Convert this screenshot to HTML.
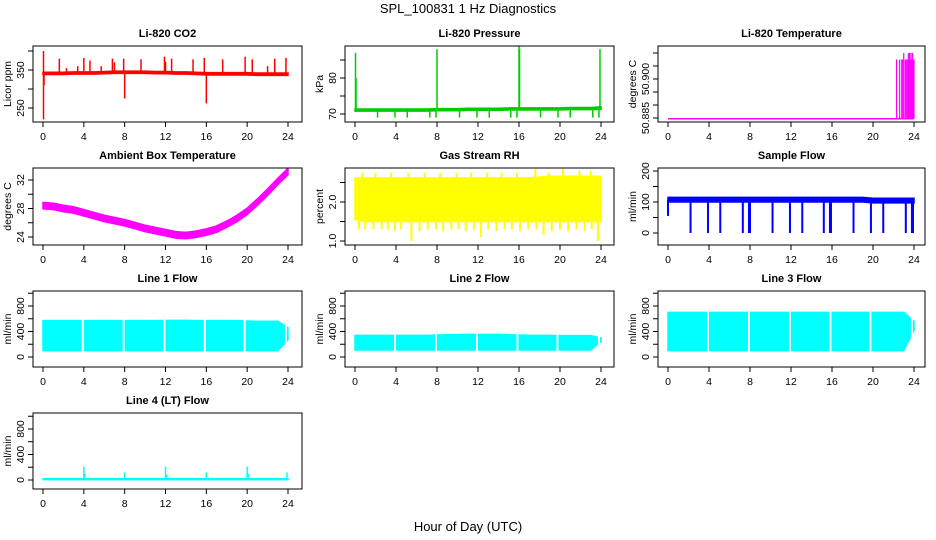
<!DOCTYPE html>
<html><head><meta charset="utf-8">
<style>
html,body{margin:0;padding:0;background:#fff;}
svg{display:block;font-family:"Liberation Sans",Arial,sans-serif;}
.tl{font-size:10.5px;fill:#000;}
.tt{font-size:11px;font-weight:bold;fill:#000;}
</style></head>
<body>
<svg id="chart" width="936" height="540" viewBox="0 0 936 540">
<text x="468" y="13" text-anchor="middle" font-size="13">SPL_100831  1 Hz Diagnostics</text>
<text x="468" y="531" text-anchor="middle" font-size="13">Hour of Day (UTC)</text>
</svg>
<script>
// ---------- data ----------
const hours = [0,1,2,3,4,5,6,7,8,9,10,11,12,13,14,15,16,17,18,19,20,21,22,23,24];
const xTicks = [0,4,8,12,16,20,24];

const co2Hi = [344,344,344,345,345,345,346,347,347,347,347,346,346,345,345,344,343,343,343,343,343,342,342,342,342];
const co2Lo = [338,338,338,339,339,339,340,341,341,341,341,340,340,339,339,338,337,337,337,337,337,336,336,336,336];
const co2SpikeT = [0.05,1.6,2.3,3.4,4.0,4.6,5.7,6.8,7.0,7.9,9.6,11.9,12.0,12.6,14.7,15.8,17.6,19.8,20.5,22.0,22.7,23.8,0.05,0.1,8.0,16.0];
const co2SpikeV = [400,380,355,360,382,375,360,380,370,380,378,385,372,380,378,382,378,385,378,360,380,382,220,310,275,262];

const presHi = [71.4,71.4,71.4,71.4,71.4,71.4,71.4,71.4,71.5,71.5,71.5,71.6,71.6,71.6,71.6,71.7,71.7,71.7,71.7,71.7,71.7,71.8,71.8,71.8,72.0];
const presLo = [70.8,70.8,70.8,70.8,70.8,70.8,70.8,70.8,70.9,70.9,70.9,71.0,71.0,71.0,71.0,71.1,71.1,71.1,71.1,71.1,71.1,71.2,71.2,71.2,71.3];
const presSpikeT = [0.05,0.1,8.0,16.0,16.05,23.9,2.2,3.9,5.1,7.3,7.9,10.2,11.9,13.1,15.2,15.8,18.1,19.8,21.0,23.2,23.8];
const presSpikeV = [87,80,88,89.5,88,88,69,69,69,69,69,69,69,69,69,69,69,69,69,69,69];

const tempBase = [50.8847,50.8847,50.8847,50.8847,50.8847,50.8847,50.8847,50.8847,50.8847,50.8847,50.8847,50.8847,50.8847,50.8847,50.8847,50.8847,50.8847,50.8847,50.8847,50.8847,50.8847,50.8847,50.8847,50.8847,50.8847];
const tempSpikeT = [22.3,22.6,22.8,22.9,23.0,23.15,23.25,23.35,23.45,23.5,23.55,23.65,23.7,23.8,23.85,23.95,24.0];
const tempSpikeV = [50.9075,50.9075,50.9075,50.9075,50.910,50.9075,50.9075,50.9075,50.910,50.9075,50.910,50.9075,50.910,50.9075,50.910,50.9075,50.9075];

const ambMid = [28.4,28.3,28.0,27.8,27.4,27.0,26.6,26.3,26.0,25.6,25.2,24.9,24.6,24.3,24.2,24.4,24.7,25.1,25.8,26.6,27.6,28.9,30.3,31.8,33.2];
const ambSpread = [0.45,0.45,0.45,0.45,0.45,0.45,0.45,0.45,0.45,0.45,0.45,0.45,0.45,0.45,0.45,0.45,0.45,0.45,0.45,0.45,0.45,0.45,0.45,0.45,0.45];

const rhHi = [2.62,2.62,2.62,2.62,2.62,2.62,2.62,2.62,2.62,2.62,2.62,2.62,2.62,2.62,2.62,2.62,2.62,2.62,2.64,2.66,2.66,2.66,2.66,2.66,2.66];
const rhLo = [1.55,1.5,1.5,1.5,1.5,1.5,1.5,1.5,1.5,1.5,1.5,1.5,1.5,1.5,1.5,1.5,1.5,1.5,1.5,1.5,1.5,1.5,1.5,1.5,1.5];
const rhSpikeT = [0.4,1.0,1.8,2.6,3.2,3.9,4.5,5.5,6.3,7.1,7.9,8.6,9.4,10.1,10.8,11.6,12.3,13.0,13.8,14.6,15.3,16.1,16.9,17.7,18.4,19.2,20.0,20.8,21.6,22.4,23.1,23.7,0.7,2.0,3.5,5.2,6.8,8.3,9.9,11.3,12.9,14.3,15.8,17.6,18.9,20.3,21.9,23.0];
const rhSpikeV = [1.3,1.3,1.3,1.3,1.3,1.25,1.3,1.0,1.25,1.3,1.3,1.25,1.3,1.3,1.25,1.3,1.1,1.3,1.25,1.3,1.3,1.25,1.3,1.3,1.15,1.25,1.3,1.25,1.3,1.25,1.3,1.0,2.75,2.75,2.75,2.75,2.75,2.75,2.75,2.75,2.75,2.75,2.75,2.85,2.75,2.85,2.8,2.8];

const flowHi = [115,115,115,115,115,115,115,115,115,115,115,115,115,115,115,115,115,115,115,115,112,112,112,112,112];
const flowLo = [100,100,100,100,100,100,100,100,100,100,100,100,100,100,100,100,100,100,100,100,97,97,97,97,97];
const flowSpikeT = [0.0,2.2,3.9,5.1,7.3,7.9,8.0,10.2,11.9,13.1,15.2,15.8,15.9,18.1,19.8,21.0,23.2,23.8,23.9];
const flowSpikeV = [55,0,0,0,0,0,0,0,0,0,0,0,0,0,0,0,0,0,0];

const l1Hi = [570,570,570,570,570,570,570,570,570,570,570,570,575,575,575,570,570,570,570,570,565,560,560,560,460];
const l1Lo = [100,100,100,100,100,100,100,100,100,100,100,100,100,100,100,100,100,100,100,100,100,100,100,100,270];
const l2Hi = [340,340,340,340,340,340,340,340,345,350,350,355,355,355,355,350,345,340,340,340,335,335,335,335,300];
const l2Lo = [110,110,110,110,110,110,110,110,110,110,110,110,110,110,110,110,110,110,110,110,110,110,110,110,240];
const l3Hi = [700,700,700,700,700,700,700,700,700,700,700,700,700,700,700,700,700,700,700,700,700,700,700,700,560];
const l3Lo = [100,100,100,100,100,100,100,100,100,100,100,100,100,100,100,100,100,100,100,100,100,100,100,100,420];
const lineGapT = [3.9,7.9,11.9,15.85,19.75,23.8];
const l4Hi = [20,20,20,20,20,20,20,20,20,20,20,20,20,20,20,20,20,20,20,20,20,20,20,20,20];
const l4Lo = [5,5,5,5,5,5,5,5,5,5,5,5,5,5,5,5,5,5,5,5,5,5,5,5,5];
const l4SpikeT = [4.0,4.1,8.0,12.0,12.1,16.0,20.0,20.1,23.9];
const l4SpikeV = [210,100,120,210,80,120,210,100,120];

// ---------- layout ----------
const NS='http://www.w3.org/2000/svg';
const svg=document.getElementById('chart');
const cols=[{l:33,r:302,x0:43,x24:288},{l:345,r:614,x0:355,x24:601},{l:658,r:925,x0:668,x24:914}];
const rows=[{t:46,b:122},{t:168,b:245},{t:291,b:367},{t:413,b:489}];
function mk(tag,attrs,parent){const e=document.createElementNS(NS,tag);for(const k in attrs)e.setAttribute(k,attrs[k]);(parent||svg).appendChild(e);return e;}

function panel(opt){
  const c=cols[opt.col], r=rows[opt.row];
  const g=mk('g',{});
  
  
  const xs=t=>c.x0+(c.x24-c.x0)*t/24;
  const ys=v=>opt.py1+(opt.py2-opt.py1)*(v-opt.v1)/(opt.v2-opt.v1);
  const clipId='clip'+opt.name;
  const cp=mk('clipPath',{id:clipId},g);mk('rect',{x:c.l,y:r.t,width:c.r-c.l,height:r.b-r.t},cp);
  const dg=mk('g',{'clip-path':'url(#'+clipId+')'},g);
  
  
  if(opt.hi){
    let pts=[];
    for(let i=0;i<hours.length;i++)pts.push(xs(hours[i])+','+ys(opt.hi[i]));
    for(let i=hours.length-1;i>=0;i--)pts.push(xs(hours[i])+','+ys(opt.lo[i]));
    const p=mk('polygon',{points:pts.join(' '),fill:opt.color,stroke:opt.color,'stroke-width':1.5},dg);
    
    
  }
  if(opt.gaps){
    opt.gaps.forEach(t=>{
      const l=mk('line',{x1:xs(t),x2:xs(t),y1:r.t+1,y2:r.b-1,stroke:'#fff','stroke-width':2},dg);
      
      
    });
  }
  if(opt.st){
    opt.st.forEach((t,i)=>{
      const idx=Math.min(24,Math.round(t));
      const base=(opt.hi[idx]+opt.lo[idx])/2;
      const l=mk('line',{x1:xs(t),x2:xs(t),y1:ys(base),y2:ys(opt.sv[i]),stroke:opt.color,'stroke-width':opt.sw||1.5},dg);
      
      
    });
  }
  const b=mk('rect',{x:c.l,y:r.t,width:c.r-c.l,height:r.b-r.t,fill:'none',stroke:'#000','stroke-width':1},g);
  
  
  const xa=mk('g',{},g);
  
  
  mk('line',{x1:xs(0),x2:xs(24),y1:r.b,y2:r.b,stroke:'#000'},xa);
  xTicks.forEach(t=>{
    mk('line',{x1:xs(t),x2:xs(t),y1:r.b,y2:r.b+5,stroke:'#000'},xa);
    const tx=mk('text',{x:xs(t),y:r.b+18,'text-anchor':'middle',class:'tl'},xa);tx.textContent=t;
  });
  const ya=mk('g',{},g);
  
  
  mk('line',{x1:c.l,x2:c.l,y1:ys(opt.yt[0]),y2:ys(opt.yt[opt.yt.length-1]),stroke:'#000'},ya);
  opt.yt.forEach(v=>{
    mk('line',{x1:c.l-5,x2:c.l,y1:ys(v),y2:ys(v),stroke:'#000'},ya);
  });
  opt.yl.forEach(v=>{
    const x=c.l-9, y=ys(v);
    const tx=mk('text',{x:x,y:y,'text-anchor':'middle',class:'tl',transform:'rotate(-90 '+x+' '+y+')'},ya);
    tx.textContent=opt.fmt?opt.fmt(v):v;
  });
  const lx=c.l-22, ly=(r.t+r.b)/2;
  const yt=mk('text',{x:lx,y:ly,'text-anchor':'middle',class:'tl',transform:'rotate(-90 '+lx+' '+ly+')'},g);
  yt.textContent=opt.ylab;
  
  
  const tt=mk('text',{x:(c.l+c.r)/2,y:r.t-9,'text-anchor':'middle',class:'tt'},g);
  tt.textContent=opt.title;
  
  
}

panel({name:'co2',col:0,row:0,title:'Li-820 CO2',ylab:'Licor ppm',color:'#ff0000',v1:250,py1:108,v2:350,py2:70,yt:[250,300,350,400],yl:[250,350],hi:co2Hi,lo:co2Lo,st:co2SpikeT,sv:co2SpikeV});
panel({name:'pressure',col:1,row:0,title:'Li-820 Pressure',ylab:'kPa',color:'#00cc00',v1:70,py1:114,v2:80,py2:78,yt:[70,75,80,85],yl:[70,80],hi:presHi,lo:presLo,st:presSpikeT,sv:presSpikeV});
panel({name:'li820-temp',col:2,row:0,title:'Li-820 Temperature',ylab:'degrees C',color:'#ff00ff',v1:50.885,py1:118,v2:50.900,py2:79,yt:[50.885,50.89,50.895,50.9,50.905,50.91],yl:[50.885,50.9],fmt:v=>v.toFixed(3),hi:tempBase,lo:tempBase,st:tempSpikeT,sv:tempSpikeV,sw:1.2});
panel({name:'ambient-temp',col:0,row:1,title:'Ambient Box Temperature',ylab:'degrees C',color:'#ff00ff',v1:24,py1:237,v2:32,py2:180,yt:[24,26,28,30,32],yl:[24,28,32],hi:ambMid.map((m,i)=>m+ambSpread[i]),lo:ambMid.map((m,i)=>m-ambSpread[i])});
panel({name:'gas-rh',col:1,row:1,title:'Gas Stream RH',ylab:'percent',color:'#ffff00',v1:1.0,py1:241,v2:2.0,py2:202,yt:[1.0,1.5,2.0,2.5],yl:[1.0,2.0],fmt:v=>v.toFixed(1),hi:rhHi,lo:rhLo,st:rhSpikeT,sv:rhSpikeV,sw:2});
panel({name:'sample-flow',col:2,row:1,title:'Sample Flow',ylab:'ml/min',color:'#0000ff',v1:0,py1:233,v2:200,py2:171,yt:[0,50,100,150,200],yl:[0,100,200],hi:flowHi,lo:flowLo,st:flowSpikeT,sv:flowSpikeV,sw:2});
panel({name:'line1-flow',col:0,row:2,title:'Line 1 Flow',ylab:'ml/min',color:'#00ffff',v1:0,py1:357,v2:800,py2:306,yt:[0,200,400,600,800,1000],yl:[0,400,800],hi:l1Hi,lo:l1Lo,gaps:lineGapT});
panel({name:'line2-flow',col:1,row:2,title:'Line 2 Flow',ylab:'ml/min',color:'#00ffff',v1:0,py1:357,v2:800,py2:306,yt:[0,200,400,600,800,1000],yl:[0,400,800],hi:l2Hi,lo:l2Lo,gaps:lineGapT});
panel({name:'line3-flow',col:2,row:2,title:'Line 3 Flow',ylab:'ml/min',color:'#00ffff',v1:0,py1:357,v2:800,py2:306,yt:[0,200,400,600,800,1000],yl:[0,400,800],hi:l3Hi,lo:l3Lo,gaps:lineGapT});
panel({name:'line4-flow',col:0,row:3,title:'Line 4 (LT) Flow',ylab:'ml/min',color:'#00ffff',v1:0,py1:480,v2:800,py2:429,yt:[0,200,400,600,800,1000],yl:[0,400,800],hi:l4Hi,lo:l4Lo,st:l4SpikeT,sv:l4SpikeV});
</script>
</body></html>
